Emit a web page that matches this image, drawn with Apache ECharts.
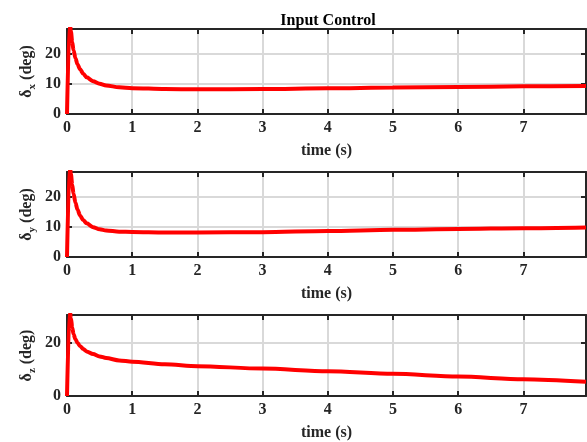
<!DOCTYPE html>
<html>
<head>
    <meta charset="utf-8" />
    <script src="https://cdn.jsdelivr.net/npm/echarts@6/dist/echarts.min.js"></script>
    <style>
        html, body { margin: 0; padding: 0; background: #fff; }
    </style>
</head>
<body>
    <div id="main" style="width: 587px;height: 442px;"></div>

    <script type="text/javascript">
        // time samples (s)
        var time = [0, 0.04, 0.06, 0.08, 0.1, 0.13, 0.16, 0.2, 0.25, 0.3, 0.4, 0.5, 0.6, 0.8, 1, 1.5, 2, 3, 4, 5, 6, 7, 7.96];
        // control deflections (deg)
        var deltaX = [0, 31, 27.5, 24, 21.2, 18.6, 16.6, 14.9, 13.4, 12.2, 10.9, 10.1, 9.5, 8.9, 8.6, 8.3, 8.2, 8.3, 8.55, 8.8, 9.0, 9.2, 9.35];
        var deltaY = [0, 31, 27.5, 24, 21, 18, 15.8, 13.8, 12.2, 11.2, 9.9, 9.2, 8.8, 8.4, 8.3, 8.15, 8.1, 8.25, 8.65, 9.0, 9.3, 9.55, 9.8];
        var deltaZ = [0, 33, 29.5, 26, 23.4, 21.5, 20.2, 18.9, 17.8, 16.9, 15.9, 15.0, 14.4, 13.5, 13.0, 12.0, 11.3, 10.4, 9.4, 8.4, 7.35, 6.35, 5.4];

        var subs = ['x', 'y', 'z'];
        var yMax = [28.3, 28.2, 30.7];
        var yStep = [10, 10, 20];
        var gridTop = [29, 172, 315];

        var chartDom = document.getElementById('main');
        var myChart = echarts.init(chartDom);

        var font = 'Liberation Serif, Times New Roman, serif';
        var dark = '#262626';
        function tick() {
            return { show: true, inside: true, length: 5, lineStyle: { color: dark, width: 2 } };
        }
        function line() {
            return { show: true, onZero: false, lineStyle: { color: dark, width: 2 } };
        }
        var split = { show: true, lineStyle: { color: '#d9d9d9', width: 2 } };
        var labelStyle = { fontFamily: font, fontWeight: 'bold', fontSize: 16, color: '#262626' };

        var grids = [], xAxes = [], yAxes = [], series = [];
        var data = [deltaX, deltaY, deltaZ];

        for (var i = 0; i < 3; i++) {
            grids.push({ left: 67, right: 1, top: gridTop[i], height: 85 });
            // bottom x axis with labels
            xAxes.push({
                type: 'value', gridIndex: i, position: 'bottom', min: 0, max: 7.96, interval: 1,
                axisLine: line(), axisTick: tick(), splitLine: split,
                axisLabel: Object.assign({ margin: 6, showMaxLabel: false }, labelStyle),
                name: 'time (s)', nameLocation: 'middle', nameGap: 29,
                nameTextStyle: labelStyle
            });
            // top x axis, ticks only
            xAxes.push({
                type: 'value', gridIndex: i, position: 'top', min: 0, max: 7.96, interval: 1,
                axisLine: line(), axisTick: tick(), splitLine: { show: false },
                axisLabel: { show: false }
            });
            yAxes.push({
                type: 'value', gridIndex: i, position: 'left', min: 0, max: yMax[i], interval: yStep[i],
                axisLine: line(), axisTick: tick(), splitLine: split,
                axisLabel: Object.assign({ margin: 6, showMaxLabel: false }, labelStyle),
                name: '{a|δ}{b|' + subs[i] + '}{a| (deg)}', nameLocation: 'middle', nameGap: 29,
                nameMoveOverlap: false,
                nameTextStyle: {
                    rich: {
                        a: { fontFamily: font, fontWeight: 'bold', fontSize: 16, color: '#262626', lineHeight: 22, verticalAlign: 'middle' },
                        b: { fontFamily: font, fontWeight: 'bold', fontSize: 11, color: '#262626', lineHeight: 10, verticalAlign: 'bottom' }
                    }
                }
            });
            yAxes.push({
                type: 'value', gridIndex: i, position: 'right', min: 0, max: yMax[i], interval: yStep[i],
                axisLine: line(), axisTick: tick(), splitLine: { show: false },
                axisLabel: { show: false }
            });
            var pts = time.map(function (t, k) { return [t, data[i][k]]; });
            series.push({
                type: 'line', xAxisIndex: 2 * i, yAxisIndex: 2 * i, data: pts,
                showSymbol: false, smooth: 0.3, smoothMonotone: 'x', clip: true,
                lineStyle: { color: '#ff0000', width: 4 }
            });
        }

        var option = {
            animation: false,
            title: {
                text: 'Input Control', left: 323, top: 8, textAlign: 'center',
                textStyle: { fontFamily: font, fontWeight: 'bold', fontSize: 16, color: '#000' }
            },
            grid: grids,
            xAxis: xAxes,
            yAxis: yAxes,
            series: series
        };
        myChart.setOption(option);
    </script>
</body>
</html>
